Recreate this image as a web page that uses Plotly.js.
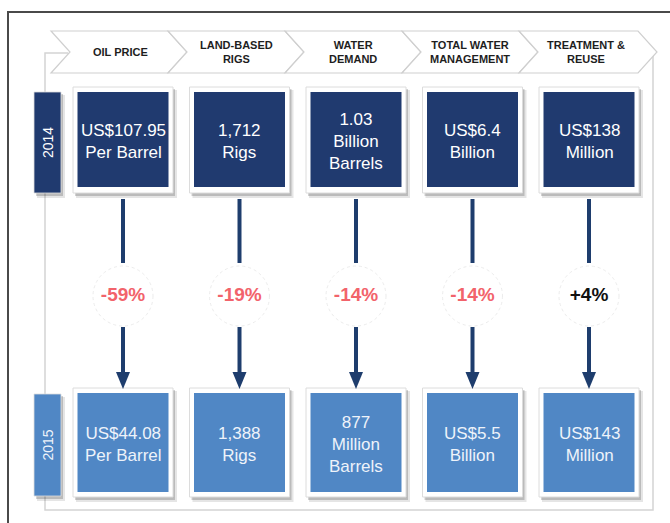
<!DOCTYPE html>
<html><head><meta charset="utf-8">
<script src="https://cdn.plot.ly/plotly-3.0.1.min.js"></script>
<style>html,body{margin:0;padding:0;background:#fff}#chart{width:670px;height:523px}</style>
</head><body><div id="chart"></div>
<script>
const categories = ["OIL PRICE", "LAND-BASED<br>RIGS", "WATER<br>DEMAND", "TOTAL WATER<br>MANAGEMENT", "TREATMENT &<br>REUSE"];
const years = ["2014", "2015"];
const values2014 = ["US$107.95<br>Per Barrel", "1,712<br>Rigs", "1.03<br>Billion<br>Barrels", "US$6.4<br>Billion", "US$138<br>Million"];
const values2015 = ["US$44.08<br>Per Barrel", "1,388<br>Rigs", "877<br>Million<br>Barrels", "US$5.5<br>Billion", "US$143<br>Million"];
const changes = ["-59%", "-19%", "-14%", "-14%", "+4%"];

const FONT = "'Liberation Sans', Arial, sans-serif";
const NAVY = "#203a6f", LIGHT = "#5087c5", ARROW = "#1e3d6d";
const colX = i => 123 + i * 116.5;
const shapes = [], annotations = [];

// outer frame
shapes.push({type:'path', path:'M 8,523 L 8,12 L 670,12', line:{color:'#4a4a4a', width:2}});
// bracket
shapes.push({type:'path', path:'M 68,53 L 45,53 L 45,510 L 653,510 L 653,53', line:{color:'#d4d4d4', width:1.5}});

// chevrons
for (let i = 0; i < categories.length; i++) {
  const L = 51 + i * 117, R = (i === categories.length - 1) ? 638 : L + 117, t = 19;
  shapes.push({type:'path', path:`M ${L},31 L ${R},31 L ${R+t},52 L ${R},73 L ${L},73 L ${L+t},52 Z`,
    fillcolor:'#ffffff', line:{color:'#cfcfcf', width:1.2}});
  annotations.push({x: colX(i) - 3, y: 52, xref:'x', yref:'y', text: '<b>' + categories[i] + '</b>',
    showarrow:false, font:{family:FONT, size:11, color:'#1e1e1e'}, align:'center'});
}

function box(x0, x1, y0, y1, color, frame) {
  shapes.push({type:'rect', x0:x0+3, x1:x1+4, y0:y0+3, y1:y1+5, fillcolor:'rgba(0,0,0,0.10)', line:{width:0}});
  shapes.push({type:'rect', x0:x0+2, x1:x1+2, y0:y0+2, y1:y1+3, fillcolor:'rgba(0,0,0,0.18)', line:{width:0}});
  if (frame) {
    shapes.push({type:'rect', x0:x0, x1:x1, y0:y0, y1:y1, fillcolor:'#ffffff', line:{color:'#dcdcdc', width:1}});
  }
}

const rows = [
  {vals: values2014, color: NAVY, textColor:'#ffffff', y0:92, y1:187, fy0:87, fy1:193, yl0:92, yl1:193},
  {vals: values2015, color: LIGHT, textColor:'#eef3fa', y0:393, y1:492, fy0:388, fy1:497, yl0:394, yl1:496}
];
rows.forEach((r, ri) => {
  box(34, 61, r.yl0, r.yl1, r.color, false);
  shapes.push({type:'rect', x0:34, x1:61, y0:r.yl0, y1:r.yl1, fillcolor:r.color, line:{color:'#dddddd', width:0.8}});
  annotations.push({x:47.5, y:(r.yl0 + r.yl1)/2, xref:'x', yref:'y', text: years[ri], textangle:-90,
    showarrow:false, font:{family:FONT, size:14, color:r.textColor}});
  for (let i = 0; i < r.vals.length; i++) {
    const cx = colX(i);
    box(cx - 50, cx + 50, r.fy0, r.fy1, r.color, true);
    shapes.push({type:'rect', x0:cx-45.5, x1:cx+45.5, y0:r.y0, y1:r.y1, fillcolor:r.color, line:{width:0}});
    annotations.push({x:cx, y:(r.y0 + r.y1)/2 + 2, xref:'x', yref:'y', text:r.vals[i], showarrow:false,
      font:{family:FONT, size:17, color:r.textColor}, align:'center'});
  }
});

const cy = 296;
for (let i = 0; i < changes.length; i++) {
  const cx = colX(i);
  shapes.push({type:'line', x0:cx, x1:cx, y0:199, y1:263, line:{color:ARROW, width:4}});
  shapes.push({type:'line', x0:cx, x1:cx, y0:327, y1:374, line:{color:ARROW, width:4}});
  shapes.push({type:'path', path:`M ${cx-7},372 L ${cx+7},372 L ${cx},389 Z`, fillcolor:ARROW, line:{width:0}});
  shapes.push({type:'circle', x0:cx-30, x1:cx+30, y0:cy-30, y1:cy+30, fillcolor:'#ffffff',
    line:{color:'#ececec', width:1, dash:'dot'}});
}
shapes.forEach(s => s.layer = 'below');

const changeTrace = {
  type:'scatter', mode:'text', x: changes.map((c, i) => colX(i)), y: changes.map(() => cy),
  text: changes.map(c => '<b>' + c + '</b>'), textposition:'middle center', hoverinfo:'skip',
  textfont:{family:FONT, size:19, color: changes.map(c => c.startsWith('+') ? '#111111' : '#f2636b')}
};

Plotly.newPlot('chart', [changeTrace], {
  width:670, height:523, margin:{l:0, r:0, t:0, b:0},
  paper_bgcolor:'#ffffff', plot_bgcolor:'rgba(0,0,0,0)', showlegend:false,
  xaxis:{range:[0,670], visible:false, fixedrange:true},
  yaxis:{range:[523,0], visible:false, fixedrange:true},
  shapes, annotations
}, {staticPlot:true, displayModeBar:false});
</script></body></html>
